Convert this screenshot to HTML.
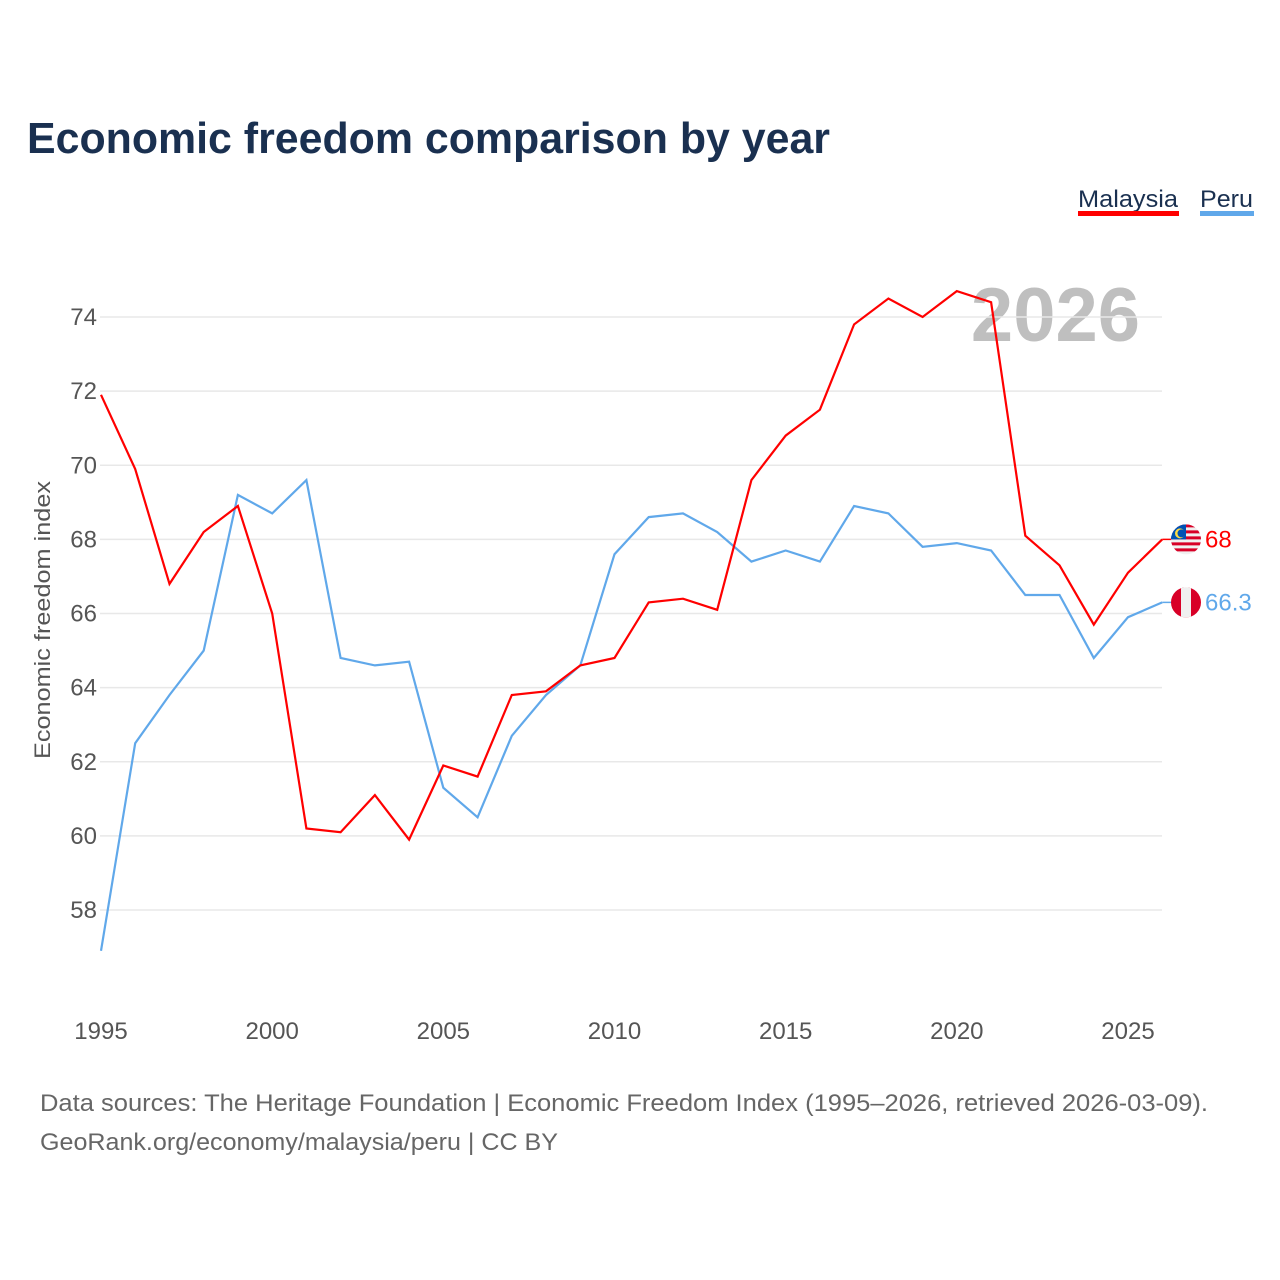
<!DOCTYPE html>
<html><head><meta charset="utf-8">
<style>
html,body{margin:0;padding:0;background:#fff;}
svg{display:block;font-family:"Liberation Sans",sans-serif;}
</style></head>
<body>
<svg id="chart" width="1280" height="1280" viewBox="0 0 1280 1280" xmlns="http://www.w3.org/2000/svg">
  <rect width="1280" height="1280" fill="#fff"/>
  <text x="27" y="153" font-size="44" font-weight="bold" fill="#1a3050" textLength="803" lengthAdjust="spacingAndGlyphs">Economic freedom comparison by year</text>
  <g>
    <g>
      <text x="1078" y="207" font-size="24" fill="#1a3050" textLength="100" lengthAdjust="spacingAndGlyphs">Malaysia</text>
      <rect x="1078" y="211" width="101" height="5" fill="#ff0000"/>
    </g>
    <g>
      <text x="1200" y="207" font-size="24" fill="#1a3050" textLength="53" lengthAdjust="spacingAndGlyphs">Peru</text>
      <rect x="1200" y="211" width="54" height="5" fill="#60a8ea"/>
    </g>
  </g>
  <text x="1140" y="341" font-size="76" font-weight="bold" fill="#bfbfbf" text-anchor="end">2026</text>
  <g id="grid"></g>
  <g id="yticks"></g>
  <g id="xticks"></g>
  <text transform="translate(50,620) rotate(-90)" font-size="22" fill="#555" text-anchor="middle" textLength="278" lengthAdjust="spacingAndGlyphs">Economic freedom index</text>
  <g id="series"></g>
  <g id="ends"></g>
  <text x="40" y="1111" font-size="24" fill="#666" textLength="1168" lengthAdjust="spacingAndGlyphs">Data sources: The Heritage Foundation | Economic Freedom Index (1995–2026, retrieved 2026-03-09).</text>
  <text x="40" y="1150" font-size="24" fill="#666" textLength="518" lengthAdjust="spacingAndGlyphs">GeoRank.org/economy/malaysia/peru | CC BY</text>
</svg>
<script>
const years = [1995,1996,1997,1998,1999,2000,2001,2002,2003,2004,2005,2006,2007,2008,2009,2010,2011,2012,2013,2014,2015,2016,2017,2018,2019,2020,2021,2022,2023,2024,2025,2026];
const malaysia = [71.9,69.9,66.8,68.2,68.9,66.0,60.2,60.1,61.1,59.9,61.9,61.6,63.8,63.9,64.6,64.8,66.3,66.4,66.1,69.6,70.8,71.5,73.8,74.5,74.0,74.7,74.4,68.1,67.3,65.7,67.1,68.0];
const peru = [56.9,62.5,63.8,65.0,69.2,68.7,69.6,64.8,64.6,64.7,61.3,60.5,62.7,63.8,64.6,67.6,68.6,68.7,68.2,67.4,67.7,67.4,68.9,68.7,67.8,67.9,67.7,66.5,66.5,64.8,65.9,66.3];
const yTicks = [58,60,62,64,66,68,70,72,74];
const xTicks = [1995,2000,2005,2010,2015,2020,2025];
const endLabels = ["68","66.3"];

const NS = "http://www.w3.org/2000/svg";
function x(yr){ return 101 + (yr-1995)*(1027/30); }
function y(v){ return 317 + (74-v)*(593/16); }
function mk(tag, attrs, parent){ const e=document.createElementNS(NS,tag); for(const k in attrs) e.setAttribute(k,attrs[k]); parent.appendChild(e); return e; }

const grid=document.getElementById('grid'), yt=document.getElementById('yticks'), xt=document.getElementById('xticks');
yTicks.forEach(t=>{
  const l=mk('line',{x1:100,x2:1162,y1:y(t),y2:y(t),stroke:'#e8e8e8','stroke-width':1.5},grid);
  
  
  const tx=mk('text',{x:97,y:y(t)+8,'font-size':24,fill:'#555','text-anchor':'end'},yt);
  tx.textContent=t;
  
  
});
xTicks.forEach(t=>{
  const tx=mk('text',{x:x(t),y:1039,'font-size':24,fill:'#555','text-anchor':'middle'},xt);
  tx.textContent=t;
  
  
});

const series=document.getElementById('series');
function line(vals,color,name){
  const d=vals.map((v,i)=>(i?'L':'M')+x(years[i]).toFixed(1)+','+y(v).toFixed(1)).join(' ');
  const p=mk('path',{d:d,fill:'none',stroke:color,'stroke-width':2.2,'stroke-linejoin':'miter'},series);
  
  
}
line(peru,'#60a8ea','line-peru');
line(malaysia,'#ff0000','line-malaysia');

const ends=document.getElementById('ends');
const lastX=x(years[years.length-1]);
function endMark(val,label,color,name,flag){
  const yy=y(val);
  mk('line',{x1:lastX,x2:lastX+10,y1:yy,y2:yy,stroke:color,'stroke-width':1.5},ends);
  const g=mk('g',{},ends);
  
  
  const cx=1186, r=15;
  const cid='clip-'+name;
  const cp=mk('clipPath',{id:cid},g); mk('circle',{cx:cx,cy:yy,r:r},cp);
  const fg=mk('g',{'clip-path':'url(#'+cid+')'},g);
  if(flag==='my'){
    mk('rect',{x:cx-r,y:yy-r,width:2*r,height:2*r,fill:'#f0f0f0'},fg);
    for(let i=0;i<5;i++) mk('rect',{x:cx-r,y:yy-r+i*6,width:2*r,height:3,fill:'#d80027'},fg);
    mk('rect',{x:cx-r,y:yy-r,width:r,height:r,fill:'#0052b4'},fg);
    mk('circle',{cx:cx-6,cy:yy-6,r:5,fill:'#ffda44'},fg);
    mk('circle',{cx:cx-4.5,cy:yy-6,r:4,fill:'#0052b4'},fg);
  } else {
    mk('rect',{x:cx-r,y:yy-r,width:2*r,height:2*r,fill:'#d80027'},fg);
    mk('rect',{x:cx-r/3,y:yy-r,width:2*r/3,height:2*r,fill:'#f0f0f0'},fg);
  }
  const t=mk('text',{x:1205,y:yy+8,'font-size':24,fill:color},ends);
  t.textContent=label;
  
  
}
endMark(malaysia[malaysia.length-1],endLabels[0],'#ff0000','malaysia','my');
endMark(peru[peru.length-1],endLabels[1],'#60a8ea','peru','pe');
</script>
</body></html>
